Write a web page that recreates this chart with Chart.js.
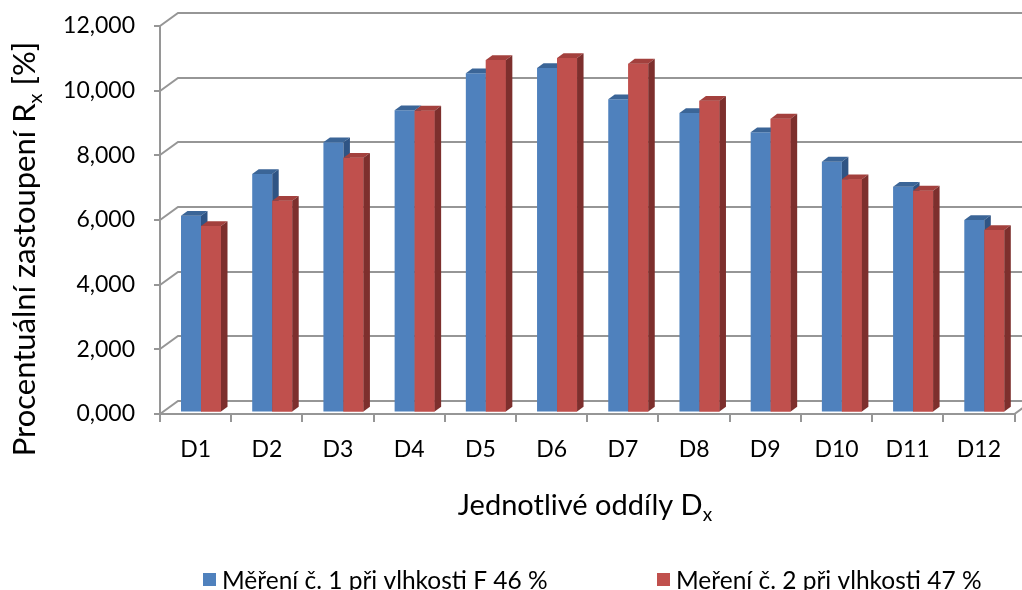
<!DOCTYPE html>
<html>
<head>
<meta charset="utf-8">
<script src="https://cdn.jsdelivr.net/npm/chart.js@4.4.1/dist/chart.umd.min.js"></script>
<style>
  html, body { margin: 0; padding: 0; background: #ffffff; }
  #wrap { width: 1022px; height: 590px; }
</style>
</head>
<body>
<div id="wrap"><canvas id="chart" width="1022" height="590"></canvas></div>
<script>
// Sections of the sample and the share of each section [%]
const categories = ['D1', 'D2', 'D3', 'D4', 'D5', 'D6', 'D7', 'D8', 'D9', 'D10', 'D11', 'D12'];
const mereni1 = [6.056, 7.346, 8.327, 9.316, 10.461, 10.625, 9.657, 9.233, 8.636, 7.727, 6.953, 5.923];
const mereni2 = [5.738, 6.520, 7.850, 9.304, 10.872, 10.934, 10.758, 9.613, 9.057, 7.182, 6.830, 5.614];
const seriesLabels = ['Měření č. 1 při vlhkosti F 46 %', 'Meření č. 2 při vlhkosti 47 %'];
const yTicks = [0, 2, 4, 6, 8, 10, 12];

const FONT = 'Lato, "Open Sans", sans-serif';
const GRID = '#969696';

// depth of the wall/floor and of the columns (pseudo-3D)
const WALL_DX = 18, WALL_DY = 13;
const BAR_DX = 6.5, BAR_DY = 4.8;
const BAR_SHIFT_X = 5.4, BAR_SHIFT_Y = -2.5;

const faceColors = [
  { top: '#3B6597', side: '#2F5484' },
  { top: '#A3403D', side: '#7D2F2D' }
];

function fmt(v) {
  return Number(v).toFixed(3).replace('.', ',');
}

const wallPlugin = {
  id: 'wall3d',
  beforeDatasetsDraw(chart) {
    const { ctx, chartArea: a, scales: { y } } = chart;
    ctx.save();
    ctx.strokeStyle = GRID;
    ctx.lineWidth = 2;
    ctx.lineCap = 'butt';
    // back wall grid lines with the side wall diagonals
    yTicks.forEach(v => {
      const py = Math.round(y.getPixelForValue(v));
      ctx.beginPath();
      ctx.moveTo(a.left, py);
      ctx.lineTo(a.left + WALL_DX, py - WALL_DY);
      ctx.lineTo(a.right + WALL_DX, py - WALL_DY);
      ctx.stroke();
      // tick on the value axis
      ctx.beginPath();
      ctx.moveTo(a.left - 6, py);
      ctx.lineTo(a.left, py);
      ctx.stroke();
    });
    // value axis
    ctx.beginPath();
    ctx.moveTo(a.left, y.getPixelForValue(12));
    ctx.lineTo(a.left, a.bottom);
    ctx.stroke();
    // front floor edge and right floor edge
    ctx.beginPath();
    ctx.moveTo(a.left, a.bottom);
    ctx.lineTo(a.right, a.bottom);
    ctx.lineTo(a.right + WALL_DX, a.bottom - WALL_DY);
    ctx.stroke();
    // category ticks at the section boundaries
    const step = (a.right - a.left) / categories.length;
    for (let i = 0; i <= categories.length; i++) {
      const px = Math.round(a.left + i * step);
      ctx.beginPath();
      ctx.moveTo(px, a.bottom);
      ctx.lineTo(px, a.bottom + 8);
      ctx.stroke();
    }
    ctx.restore();
    // columns stand a little behind the front edge
    ctx.save();
    ctx.translate(BAR_SHIFT_X, BAR_SHIFT_Y);
  },
  afterDatasetsDraw(chart) {
    const { ctx } = chart;
    const m0 = chart.getDatasetMeta(0);
    const m1 = chart.getDatasetMeta(1);
    const faces = (bar, col) => {
      const p = bar.getProps(['x', 'y', 'base', 'width'], true);
      const x0 = p.x - p.width / 2, x1 = p.x + p.width / 2;
      ctx.fillStyle = col.top;
      ctx.beginPath();
      ctx.moveTo(x0, p.y);
      ctx.lineTo(x1, p.y);
      ctx.lineTo(x1 + BAR_DX, p.y - BAR_DY);
      ctx.lineTo(x0 + BAR_DX, p.y - BAR_DY);
      ctx.closePath();
      ctx.fill();
      ctx.fillStyle = col.side;
      ctx.beginPath();
      ctx.moveTo(x1, p.y);
      ctx.lineTo(x1 + BAR_DX, p.y - BAR_DY);
      ctx.lineTo(x1 + BAR_DX, p.base - BAR_DY);
      ctx.lineTo(x1, p.base);
      ctx.closePath();
      ctx.fill();
    };
    for (let i = 0; i < categories.length; i++) {
      faces(m0.data[i], faceColors[0]);
      m1.data[i].draw(ctx);
      faces(m1.data[i], faceColors[1]);
    }
    ctx.restore();
  },
  afterDraw(chart) {
    const { ctx } = chart;
    ctx.save();
    ctx.fillStyle = '#000000';
    ctx.textBaseline = 'alphabetic';

    // text with a subscript, drawn centred on (cx, baseline)
    const subText = (main, sub, tail, cx, base, size) => {
      ctx.font = size + 'px ' + FONT;
      const wMain = ctx.measureText(main).width;
      const wTail = ctx.measureText(tail).width;
      ctx.font = Math.round(size * 0.65) + 'px ' + FONT;
      const wSub = ctx.measureText(sub).width;
      let x = cx - (wMain + wSub + wTail) / 2;
      ctx.textAlign = 'left';
      ctx.font = size + 'px ' + FONT;
      ctx.fillText(main, x, base);
      x += wMain;
      ctx.font = Math.round(size * 0.65) + 'px ' + FONT;
      ctx.fillText(sub, x, base + size * 0.22);
      x += wSub;
      ctx.font = size + 'px ' + FONT;
      ctx.fillText(tail, x, base);
    };

    // category axis title
    subText('Jednotlivé oddíly D', 'x', '', 585, 515, 29);

    // value axis title
    ctx.save();
    ctx.translate(35, 249);
    ctx.rotate(-Math.PI / 2);
    subText('Procentuální zastoupení R', 'x', ' [%]', 0, 0, 31);
    ctx.restore();

    // legend
    const legend = [
      { x: 203, color: '#4F81BD' },
      { x: 657, color: '#C0504D' }
    ];
    ctx.font = '24.5px ' + FONT;
    ctx.textAlign = 'left';
    legend.forEach((item, i) => {
      ctx.fillStyle = item.color;
      ctx.fillRect(item.x, 573, 13, 13);
      ctx.fillStyle = '#000000';
      ctx.fillText(chart.data.datasets[i].label, item.x + 19, 589);
    });
    ctx.restore();
  }
};

new Chart(document.getElementById('chart'), {
  type: 'bar',
  data: {
    labels: categories,
    datasets: [
      {
        label: seriesLabels[0],
        data: mereni1,
        backgroundColor: '#4F81BD',
        borderWidth: 0,
        categoryPercentage: 0.5618,
        barPercentage: 1,
        clip: false
      },
      {
        label: seriesLabels[1],
        data: mereni2,
        backgroundColor: '#C0504D',
        borderWidth: 0,
        categoryPercentage: 0.5618,
        barPercentage: 1,
        clip: false
      }
    ]
  },
  options: {
    responsive: false,
    animation: false,
    devicePixelRatio: 1,
    layout: { padding: { left: 0, top: 26, right: 7.5, bottom: 0 } },
    plugins: {
      legend: { display: false },
      tooltip: { enabled: false },
      title: { display: false }
    },
    scales: {
      x: {
        type: 'category',
        offset: true,
        grid: { display: false, drawTicks: false },
        border: { display: false },
        ticks: {
          font: { family: FONT, size: 23 },
          color: '#000000',
          padding: 22,
          maxRotation: 0,
          autoSkip: false
        },
        afterFit(s) {
          s.height = 176;
          s.paddingLeft = 0;
          s.paddingRight = 0;
        }
      },
      y: {
        min: 0,
        max: 12,
        afterBuildTicks(s) { s.ticks = yTicks.map(v => ({ value: v })); },
        grid: { display: false, drawTicks: false },
        border: { display: false },
        ticks: {
          font: { family: FONT, size: 23 },
          color: '#000000',
          padding: 25,
          callback: v => fmt(v)
        },
        afterFit(s) {
          s.width = 160;
          s.paddingTop = 0;
          s.paddingBottom = 0;
        }
      }
    }
  },
  plugins: [wallPlugin]
});
</script>
</body>
</html>
